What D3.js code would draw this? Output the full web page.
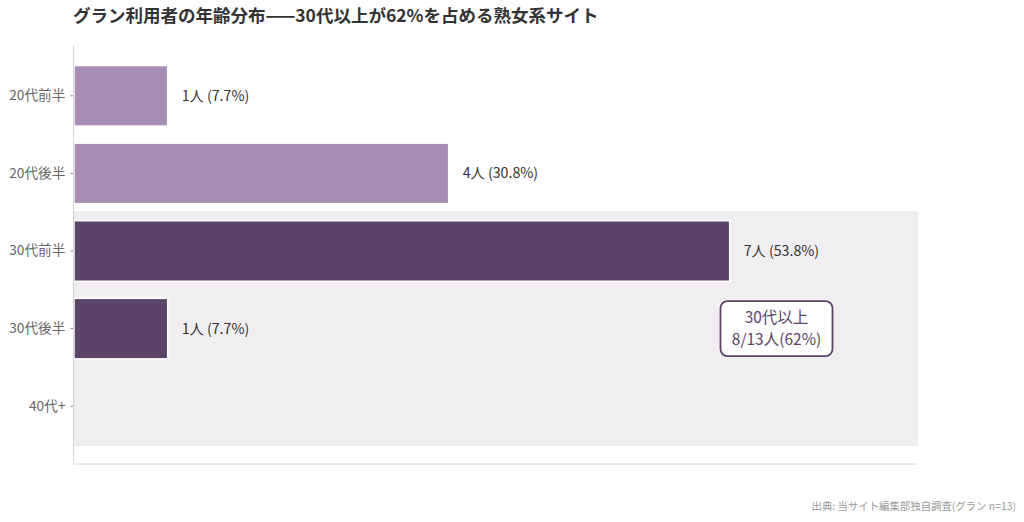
<!DOCTYPE html>
<html>
<head>
<meta charset="utf-8">
<script src="https://cdn.jsdelivr.net/npm/d3@7"></script>
<style>
  body { margin: 0; background: #fff; }
  text { font-family: "Noto Sans CJK JP", "Noto Sans", sans-serif; }
</style>
</head>
<body>
<div id="chart"></div>
<script>
const categories = ["20代前半", "20代後半", "30代前半", "30代後半", "40代+"];
const counts = [1, 4, 7, 1, 0];
const total = 13;
const highlight = ["30代前半", "30代後半", "40代+"];
const xDomainMax = 9;
const titleText = "グラン利用者の年齢分布——30代以上が62%を占める熟女系サイト";
const noteLines = ["30代以上", "8/13人(62%)"];
const sourceText = "出典: 当サイト編集部独自調査(グラン n=13)";

const width = 1024, height = 522;
const margin = { left: 74, right: 107, top: 57, bottom: 77 };

const svg = d3.select("#chart").append("svg")
  .attr("width", width)
  .attr("height", height);

const x = d3.scaleLinear()
  .domain([0, xDomainMax])
  .range([margin.left, width - margin.right]);

const y = d3.scaleBand()
  .domain(categories)
  .range([margin.top, height - margin.bottom])
  .paddingInner(0.22)
  .paddingOuter(0.11);

const step = y.step();
const pad = step * 0.22 / 2;

// shaded region for 30+
const hiTop = y(highlight[0]) - pad;
const hiBot = y(highlight[highlight.length - 1]) + y.bandwidth() + pad;
svg.append("rect")
  .attr("x", x(0))
  .attr("y", hiTop)
  .attr("width", x(xDomainMax) - x(0))
  .attr("height", hiBot - hiTop)
  .attr("fill", "#f1eef2")
  .attr("stroke", "#e6e1e8")
  .attr("stroke-width", 1);

// bars
const rows = categories.map((c, i) => ({ cat: c, n: counts[i] }));
svg.append("g").selectAll("rect")
  .data(rows.filter(d => d.n > 0))
  .join("rect")
  .attr("x", x(0))
  .attr("y", d => y(d.cat))
  .attr("width", d => x(d.n) - x(0))
  .attr("height", y.bandwidth())
  .attr("fill", d => highlight.includes(d.cat) ? "#5c4468" : "#a78db3")
  .attr("stroke", "#fff")
  .attr("stroke-width", 1.5);

// value labels
svg.append("g").selectAll("text")
  .data(rows.filter(d => d.n > 0))
  .join("text")
  .attr("x", d => x(d.n) + 14)
  .attr("y", d => y(d.cat) + y.bandwidth() / 2)
  .attr("dy", "0.35em")
  .attr("font-size", 14.2)
  .attr("fill", "#333")
  .text(d => `${d.n}人 (${(d.n / total * 100).toFixed(1)}%)`);

// y axis
const yAxis = svg.append("g")
  .attr("transform", `translate(${x(0) - 0.5},0)`)
  .call(d3.axisLeft(y).tickSize(3).tickPadding(5));
yAxis.select(".domain").remove();
yAxis.selectAll(".tick line").attr("stroke", "#888");
yAxis.selectAll(".tick text")
  .attr("font-size", 13.7)
  .attr("fill", "#666")
  .attr("font-family", "Noto Sans CJK JP");

// axis lines
svg.append("line")
  .attr("x1", x(0) - 0.5).attr("x2", x(0) - 0.5)
  .attr("y1", 45).attr("y2", 464)
  .attr("stroke", "#d6d6d6");
svg.append("line")
  .attr("x1", x(0) - 0.5).attr("x2", x(xDomainMax))
  .attr("y1", 464).attr("y2", 464)
  .attr("stroke", "#d6d6d6");

// annotation box
const boxCx = x(7.5), boxCy = y("30代後半") + y.bandwidth() / 2;
const boxW = 112, boxH = 55;
svg.append("rect")
  .attr("x", boxCx - boxW / 2)
  .attr("y", boxCy - boxH / 2)
  .attr("width", boxW)
  .attr("height", boxH)
  .attr("rx", 7)
  .attr("fill", "#fff")
  .attr("stroke", "#5c4468")
  .attr("stroke-width", 1.8);
const note = svg.append("text")
  .attr("text-anchor", "middle")
  .attr("font-size", 15.5)
  .attr("fill", "#5c4468");
noteLines.forEach((line, i) => {
  note.append("tspan")
    .attr("x", boxCx)
    .attr("y", boxCy + (i - 0.5) * 22.6)
    .attr("dy", "0.35em")
    .text(line);
});

// title
svg.append("text")
  .attr("x", 73)
  .attr("y", 22)
  .attr("font-size", 17.5)
  .attr("font-weight", "bold")
  .attr("fill", "#333")
  .text(titleText);

// source
svg.append("text")
  .attr("x", 1016)
  .attr("y", 510)
  .attr("text-anchor", "end")
  .attr("font-size", 10.4)
  .attr("fill", "#999")
  .text(sourceText);
</script>
</body>
</html>
